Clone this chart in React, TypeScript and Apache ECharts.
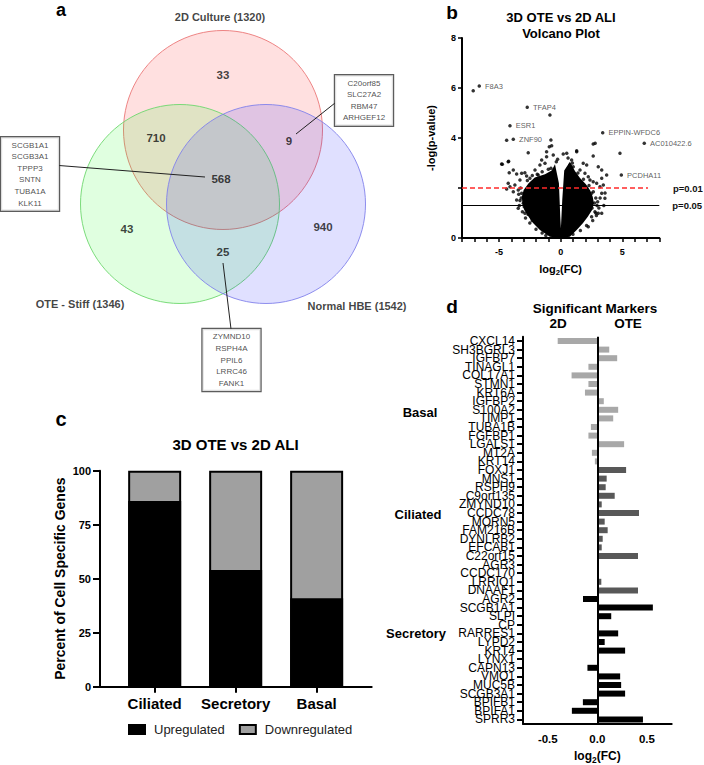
import React, { useEffect, useRef } from 'react';
import * as echarts from 'echarts';

const FONT = '"Liberation Sans", Arial, Helvetica, sans-serif';

// ---------- Panel a : Venn ----------
const vennSetNames = ['2D Culture (1320)', 'OTE - Stiff (1346)', 'Normal HBE (1542)'];
const vennRegionCounts = [33, 710, 9, 568, 43, 940, 25];
const genesAllThree = ['SCGB1A1', 'SCGB3A1', 'TPPP3', 'SNTN', 'TUBA1A', 'KLK11'];
const genes2DandHBE = ['C20orf85', 'SLC27A2', 'RBM47', 'ARHGEF12'];
const genesOTEandHBE = ['ZYMND10', 'RSPH4A', 'PPIL6', 'LRRC46', 'FANK1'];

// ---------- Panel b : Volcano ----------
const volcanoCore = [
  [0.0, 0.0], [-0.87, 0.05], [-1.68, 0.32], [-2.22, 0.59], [-2.6, 0.85], [-2.95, 1.12],
  [-3.1, 1.39], [-3.15, 1.65], [-3.0, 1.92], [-2.6, 2.19], [-2.1, 2.42], [-1.27, 2.55],
  [-0.73, 2.7], [-0.46, 2.95], [-0.14, 2.19], [-0.03, 0.85], [0.02, 0.39], [0.13, 1.52],
  [0.29, 2.7], [0.75, 3.05], [1.16, 2.68], [1.57, 2.4], [2.05, 2.15], [2.4, 1.9],
  [2.6, 1.65], [2.7, 1.39], [2.55, 1.12], [2.2, 0.85], [1.8, 0.59], [1.3, 0.32], [0.75, 0.05],
];
const volcanoPoints = [
  [-4.79, 2.96], [-4.25, 3.05], [-3.84, 2.72], [-4.17, 2.61], [-3.57, 2.56], [-3.16, 2.59],
  [-2.9, 2.61], [-2.76, 2.48], [-3.3, 2.32], [-2.49, 2.39], [-2.08, 2.72], [-1.68, 2.92],
  [-1.27, 2.99], [-1.14, 3.25], [-0.6, 3.32], [-2.63, 3.41], [0.49, 3.39], [0.89, 3.12],
  [1.3, 3.45], [1.83, 2.99], [2.11, 2.92], [2.64, 3.28], [3.05, 2.85], [3.33, 2.72],
  [3.73, 2.52], [3.33, 2.39], [4.81, 3.39], [-3.71, 2.12], [-4.11, 2.05], [-3.84, 1.85],
  [-3.57, 1.52], [-3.44, 1.19], [-2.9, 0.99], [-2.35, 0.79], [2.78, 1.05], [3.05, 0.99],
  [2.51, 0.85], [2.24, 0.45], [-4.25, 2.19], [-4.38, 1.96], [3.19, 2.05], [3.46, 2.12],
  [3.33, 1.79], [3.59, 1.59], [-1.54, 3.12], [-0.79, 2.79], [0.75, 2.92], [1.02, 2.85],
  [1.57, 2.72], [1.97, 2.59], [2.24, 2.45], [2.38, 2.32], [2.64, 2.25], [2.92, 2.19],
  [2.11, 1.99], [2.51, 1.79], [1.7, 2.19], [-3.16, 1.79], [-3.44, 1.92], [-3.03, 1.39],
  [-2.49, 1.12], [-1.95, 2.19], [-1.41, 2.32], [-1.82, 2.52],
  [-0.79, 3.92], [-0.73, 3.69], [-1.14, 3.45], [0.21, 3.36], [1.3, 3.49], [2.64, 3.76],
  [2.8, 3.79], [-4.22, 3.07], [-4.73, 2.95], [-0.92, 3.65], [-7.09, 5.89], [-0.87, 4.92],
  [-4.38, 3.91],
  [-3.3, 1.5], [-3.4, 1.75], [-3.25, 2.0], [-3.35, 1.3], [-3.1, 1.05], [-2.85, 0.8],
  [-2.5, 0.6], [-2.0, 0.35], [-2.7, 2.3], [-2.3, 2.5], [-1.9, 2.55], [-1.5, 2.65],
  [-1.0, 2.75], [-0.35, 3.05], [-0.25, 3.15], [0.6, 3.2], [0.95, 3.0], [1.4, 2.6],
  [1.85, 2.35], [2.3, 2.1], [2.65, 1.85], [2.85, 1.6], [2.95, 1.3], [2.85, 1.0],
  [2.6, 0.7], [2.1, 0.5], [1.6, 0.3], [3.0, 1.45], [3.1, 1.2], [2.9, 0.9], [3.2, 1.6],
  [3.5, 1.3], [3.33, 0.99], [3.6, 1.8], [-1.2, 0.1], [-1.5, 0.2], [1.0, 0.15],
  [-3.2, 1.6], [-2.95, 1.25], [-2.65, 0.95], [-2.3, 0.7], [2.75, 1.4], [2.55, 1.2], [2.4, 1.5],
];
const volcanoLabelNames = ['F8A3', 'TFAP4', 'ESR1', 'ZNF90', 'EPPIN-WFDC6', 'AC010422.6', 'PCDHA11'];
const volcanoLabelValues = [
  [-6.6, 6.08], [-2.71, 5.23], [-4.11, 4.49], [-3.84, 3.95], [3.41, 4.21], [6.78, 3.79], [4.92, 2.52],
];
const volcanoXLabels = [-5, 0, 5];
const volcanoYLabels = [0, 4, 6, 8];
const pThresholdNames = ['p=0.01', 'p=0.05'];
const pThresholdValues = [2, 1.3];

// ---------- Panel c : stacked bars ----------
const cellTypes = ['Ciliated', 'Secretory', 'Basal'];
const upregulated = [86, 54, 41];
const downregulated = [14, 46, 59];

// ---------- Panel d : markers ----------
const basalGenes = ['CXCL14', 'SH3BGRL3', 'IGFBP7', 'TINAGL1', 'COL17A1', 'STMN1', 'KRT6A', 'IGFBP2',
  'S100A2', 'TIMP1', 'TUBA1B', 'FGFBP1', 'LGALS1', 'MT2A', 'KRT14'];
const basalFC = [-0.40, 0.12, 0.20, -0.09, -0.26, -0.09, -0.125, 0.065, 0.21, 0.16, -0.065, -0.09,
  0.27, -0.055, -0.025];
const ciliatedGenes = ['FOXJ1', 'MNS1', 'RSPH9', 'C9orf135', 'ZMYND10', 'CCDC78', 'MORN5', 'FAM216B',
  'DYNLRB2', 'EFCAB1', 'C22orf15', 'AGR3', 'CCDC170', 'LRRIQ1', 'DNAAF1'];
const ciliatedFC = [0.29, 0.094, 0.084, 0.175, 0.044, 0.42, 0.074, 0.104, 0.054, 0.044, 0.41, 0.012,
  0.005, 0.04, 0.41];
const secretoryGenes = ['AGR2', 'SCGB1A1', 'SLPI', 'CP', 'RARRES1', 'LYPD2', 'KRT4', 'LYNX1', 'CAPN13',
  'VMO1', 'MUC5B', 'SCGB3A1', 'BPIFB1', 'BPIFA1', 'SPRR3'];
const secretoryFC = [-0.145, 0.56, 0.14, 0.004, 0.21, 0.074, 0.28, 0.013, -0.10, 0.23, 0.24, 0.28,
  -0.146, -0.257, 0.46];
const markerGroupNames = ['Basal', 'Ciliated', 'Secretory'];
const markerXLabels = [-0.5, 0, 0.5];

// ---------- layout (not data) ----------
const vennCircleCenters = [[0, 0.49], [-0.43, -0.25], [0.43, -0.25]];
const vennCircleFill = ['rgba(255,0,0,0.12)', 'rgba(0,255,0,0.12)', 'rgba(0,0,255,0.12)'];
const vennCircleStroke = ['rgba(235,120,120,0.9)', 'rgba(110,215,110,0.9)', 'rgba(130,130,235,0.9)'];
const vennRegionPos = [[0, 1.04], [-0.67, 0.41], [0.66, 0.38], [-0.02, 0.0], [-0.96, -0.5], [1.0, -0.48], [0, -0.73]];
const vennSetLabelPos = [[-0.03, 1.62], [-1.43, -1.25], [1.34, -1.27]];
const geneBoxPos = [[-1.93, 0.05], [1.41, 0.785], [0.085, -1.81]];
const leaderLines = [
  [[-1.64, 0.135], [-0.18, 0.02]],
  [[1.12, 0.76], [0.73, 0.45]],
  [[0.0, -0.84], [0.08, -1.5]],
];
const groupColors = ['#a8a8a8', '#585858', '#000000'];
const groupLabelPos = [[420, 412], [418, 514], [416, 633]];

const markerGenes = [...basalGenes, ...ciliatedGenes, ...secretoryGenes];
const markerFC = [...basalFC, ...ciliatedFC, ...secretoryFC];
const markerGroupIdx = [
  ...basalGenes.map(() => 0),
  ...ciliatedGenes.map(() => 1),
  ...secretoryGenes.map(() => 2),
];
// stacked total for the grey (downregulated) segment, drawn behind the black one
const stackedTotals = upregulated.map((u, i) => u + downregulated[i]);

const axisLineStyle = { color: '#000', width: 2 };

function txt(text: string, x: number, y: number, size: number, weight = 'bold', align = 'center') {
  return {
    type: 'text',
    x,
    y,
    silent: true,
    style: {
      text,
      fill: '#000',
      fontSize: size,
      fontWeight: weight,
      fontFamily: FONT,
      align,
      verticalAlign: 'middle',
      textAlign: align,
      textVerticalAlign: 'middle',
    },
  };
}

const log2Name = (size: number) => ({
  name: '{a|log}{s|2}{a|(FC)}',
  nameLocation: 'middle',
  nameTextStyle: {
    rich: {
      a: { fontSize: size, fontWeight: 'bold', lineHeight: size + 3, color: '#000', fontFamily: FONT },
      s: { fontSize: size * 0.7, fontWeight: 'bold', lineHeight: 6, verticalAlign: 'bottom', color: '#000', fontFamily: FONT },
    },
  },
});

export default function App() {
  const ref = useRef<HTMLDivElement>(null);

  useEffect(() => {
    document.body.style.margin = '0';
    if (!ref.current) return;
    const chart = echarts.init(ref.current, undefined, { renderer: 'svg' });

    const boxLabel = (lines: string[]) => ({
      show: true,
      position: 'inside',
      formatter: lines.join('\n'),
      fontSize: 8,
      lineHeight: 11.6,
      color: '#222',
      fontFamily: FONT,
      backgroundColor: '#fff',
      borderColor: '#333',
      borderWidth: 1.2,
      padding: [2, 1],
      width: 56,
      align: 'center',
    });

    const option: any = {
      animation: false,
      textStyle: { fontFamily: FONT, color: '#000' },
      grid: [
        { left: 0, top: 0, width: 450, height: 400, outerBoundsMode: 'none' },
        { left: 462, top: 38, width: 197.3, height: 200, outerBoundsMode: 'none' },
        { left: 100, top: 470.7, width: 271.7, height: 216, outerBoundsMode: 'none' },
        { left: 523, top: 336.7, width: 148.7, height: 387, outerBoundsMode: 'none' },
      ],
      xAxis: [
        { gridIndex: 0, type: 'value', min: -2.23, max: 2.27, show: false },
        {
          gridIndex: 1, type: 'value', min: -8, max: 8, interval: 1,
          axisLine: { show: true, onZero: false, lineStyle: axisLineStyle },
          axisTick: { show: true, length: 4, lineStyle: { color: '#000', width: 1.5 } },
          axisLabel: { customValues: volcanoXLabels, fontSize: 9, fontWeight: 'bold', color: '#000', margin: 9 },
          splitLine: { show: false },
          ...log2Name(11),
          nameGap: 24,
        },
        {
          gridIndex: 2, type: 'value', min: -0.675, max: 2.68,
          axisLine: { show: true, onZero: false, lineStyle: axisLineStyle },
          axisTick: { show: true, customValues: [0, 1, 2], length: 6, lineStyle: { color: '#000', width: 2 } },
          axisLabel: {
            customValues: [0, 1, 2],
            formatter: (v: number) => cellTypes[Math.round(v)],
            fontSize: 15, fontWeight: 'bold', color: '#000', margin: 9,
          },
          splitLine: { show: false },
        },
        {
          gridIndex: 3, type: 'value', min: -0.75, max: 0.75,
          axisLine: { show: true, onZero: false, lineStyle: axisLineStyle },
          axisTick: { show: false },
          axisLabel: {
            customValues: markerXLabels,
            formatter: (v: number) => v.toFixed(1),
            fontSize: 11.5, fontWeight: 'bold', color: '#000', margin: 9,
          },
          splitLine: { show: false },
          ...log2Name(12),
          nameGap: 25,
        },
      ],
      yAxis: [
        { gridIndex: 0, type: 'value', min: -2.21, max: 1.79, show: false },
        {
          gridIndex: 1, type: 'value', min: 0, max: 8, interval: 2,
          axisLine: { show: true, onZero: false, lineStyle: axisLineStyle },
          axisTick: { show: true, length: 4, lineStyle: { color: '#000', width: 1.5 } },
          axisLabel: { customValues: volcanoYLabels, fontSize: 9, fontWeight: 'bold', color: '#000', margin: 6 },
          splitLine: { show: false },
          name: '-log(p-value)', nameLocation: 'middle', nameGap: 26,
          nameTextStyle: { fontSize: 11, fontWeight: 'bold', color: '#000' },
        },
        {
          gridIndex: 2, type: 'value', min: 0, max: 100, interval: 25,
          axisLine: { show: true, onZero: false, lineStyle: axisLineStyle },
          axisTick: { show: true, length: 7, lineStyle: { color: '#000', width: 2 } },
          axisLabel: { fontSize: 11, fontWeight: 'bold', color: '#000', margin: 9 },
          splitLine: { show: false },
          name: 'Percent of Cell Specific Genes', nameLocation: 'middle', nameGap: 33,
          nameTextStyle: { fontSize: 14, fontWeight: 'bold', color: '#000' },
        },
        {
          gridIndex: 3, type: 'category', data: markerGenes, inverse: true,
          axisLine: { show: true, onZero: false, lineStyle: axisLineStyle },
          axisTick: { show: true, alignWithLabel: true, length: 6, lineStyle: { color: '#000', width: 2 } },
          axisLabel: { interval: 0, hideOverlap: false, fontSize: 12, color: '#000', margin: 8 },
          splitLine: { show: false },
        },
      ],
      legend: {
        left: 123, top: 718, orient: 'horizontal', icon: 'rect',
        itemWidth: 16, itemHeight: 9, itemGap: 14, selectedMode: false,
        textStyle: { fontSize: 13, color: '#222', padding: [0, 0, 0, 4] },
        data: ['Upregulated', 'Downregulated'],
      },
      series: [
        // Venn circles
        {
          type: 'scatter', xAxisIndex: 0, yAxisIndex: 0, silent: true, symbolSize: 199, z: 1,
          data: vennSetNames.map((n, i) => ({
            name: n, value: vennCircleCenters[i],
            itemStyle: { color: vennCircleFill[i], borderColor: vennCircleStroke[i], borderWidth: 1, opacity: 1 },
          })),
        },
        // region counts
        {
          type: 'scatter', xAxisIndex: 0, yAxisIndex: 0, silent: true, symbolSize: 1, z: 3,
          itemStyle: { color: 'rgba(0,0,0,0)' },
          label: { show: true, position: 'inside', formatter: '{b}', fontSize: 11.5, fontWeight: 'bold', color: '#111' },
          data: vennRegionCounts.map((c, i) => ({ name: String(c), value: vennRegionPos[i] })),
        },
        // set names
        {
          type: 'scatter', xAxisIndex: 0, yAxisIndex: 0, silent: true, symbolSize: 1, z: 3,
          itemStyle: { color: 'rgba(0,0,0,0)' },
          label: { show: true, position: 'inside', formatter: '{b}', fontSize: 11, fontWeight: 'bold', color: '#111' },
          data: vennSetNames.map((n, i) => ({ name: n, value: vennSetLabelPos[i] })),
        },
        // leader lines
        {
          type: 'lines', coordinateSystem: 'cartesian2d', xAxisIndex: 0, yAxisIndex: 0, silent: true, z: 4,
          lineStyle: { color: '#222', width: 1, opacity: 1 },
          data: leaderLines.map((c) => ({ coords: c })),
        },
        // gene boxes
        {
          type: 'scatter', xAxisIndex: 0, yAxisIndex: 0, silent: true, symbolSize: 1, z: 5,
          itemStyle: { color: 'rgba(0,0,0,0)' },
          data: [genesAllThree, genes2DandHBE, genesOTEandHBE].map((g, i) => ({
            name: g.join(','), value: geneBoxPos[i], label: boxLabel(g),
          })),
        },
        // Volcano dense core
        {
          type: 'custom', xAxisIndex: 1, yAxisIndex: 1, silent: true, z: 2,
          data: [[0, 0]],
          renderItem: (_p: any, api: any) => ({
            type: 'polygon',
            shape: { points: volcanoCore.map((pt) => api.coord(pt)) },
            style: { fill: '#000' },
          }),
        },
        // Volcano points
        {
          type: 'scatter', xAxisIndex: 1, yAxisIndex: 1, silent: true, symbolSize: 3.5, z: 3,
          itemStyle: { color: '#000' },
          data: volcanoPoints,
          markLine: {
            silent: true, symbol: ['none', 'none'],
            data: [
              [
                {
                  coord: [-8, pThresholdValues[0]],
                  lineStyle: { color: '#ff2a2a', type: [5, 3], width: 1.6 },
                  label: { show: true, position: 'end', formatter: pThresholdNames[0], distance: 25, fontSize: 9.5, fontWeight: 'bold', color: '#111' },
                },
                { coord: [7.08, pThresholdValues[0]] },
              ],
              [
                {
                  coord: [-8, pThresholdValues[1]],
                  lineStyle: { color: '#000', type: 'solid', width: 1.2 },
                  label: { show: true, position: 'end', formatter: pThresholdNames[1], distance: 13, fontSize: 9.5, fontWeight: 'bold', color: '#111' },
                },
                { coord: [8, pThresholdValues[1]] },
              ],
            ],
          },
        },
        // labelled volcano points
        {
          type: 'scatter', xAxisIndex: 1, yAxisIndex: 1, silent: true, symbolSize: 3.5, z: 4,
          itemStyle: { color: '#000' },
          label: { show: true, position: 'right', distance: 4, formatter: '{b}', fontSize: 7.5, color: '#333' },
          data: volcanoLabelNames.map((n, i) => ({ name: n, value: volcanoLabelValues[i] })),
        },
        // Panel c bars: grey total behind, black upregulated in front (same slot)
        {
          type: 'bar', name: 'Downregulated', xAxisIndex: 2, yAxisIndex: 2, barWidth: 53, barGap: '-100%', z: 2,
          itemStyle: { color: '#a0a0a0', borderColor: '#000', borderWidth: 2 },
          data: stackedTotals.map((v, i) => [i, v]),
        },
        {
          type: 'bar', name: 'Upregulated', xAxisIndex: 2, yAxisIndex: 2, barWidth: 53, barGap: '-100%', z: 3,
          itemStyle: { color: '#000', borderColor: '#000', borderWidth: 2 },
          data: upregulated.map((v, i) => [i, v]),
        },
        // Panel d bars
        {
          type: 'bar', name: 'log2FC', xAxisIndex: 3, yAxisIndex: 3, barWidth: 6,
          data: markerFC.map((v, i) => ({ value: v, itemStyle: { color: groupColors[markerGroupIdx[i]] } })),
          markLine: {
            silent: true, symbol: ['none', 'none'], label: { show: false },
            lineStyle: { color: '#000', type: 'solid', width: 2 },
            data: [{ xAxis: 0 }],
          },
        },
      ],
      graphic: [
        txt('a', 61, 9.5, 18),
        txt('b', 452, 12, 19),
        txt('c', 61, 419, 20),
        txt('d', 452, 306, 19),
        txt('3D OTE vs 2D ALI', 561, 17, 13),
        txt('Volcano Plot', 561, 33, 13),
        txt('3D OTE vs 2D ALI', 235.5, 444, 15),
        txt('Significant Markers', 595, 308, 13.5),
        txt('2D', 558, 323, 13.5),
        txt('OTE', 628, 323, 13.5),
        ...markerGroupNames.map((g, i) => txt(g, groupLabelPos[i][0], groupLabelPos[i][1], 13)),
      ],
    };

    chart.setOption(option);
    return () => chart.dispose();
  }, []);

  return <div ref={ref} style={{ width: 704, height: 765 }} />;
}
